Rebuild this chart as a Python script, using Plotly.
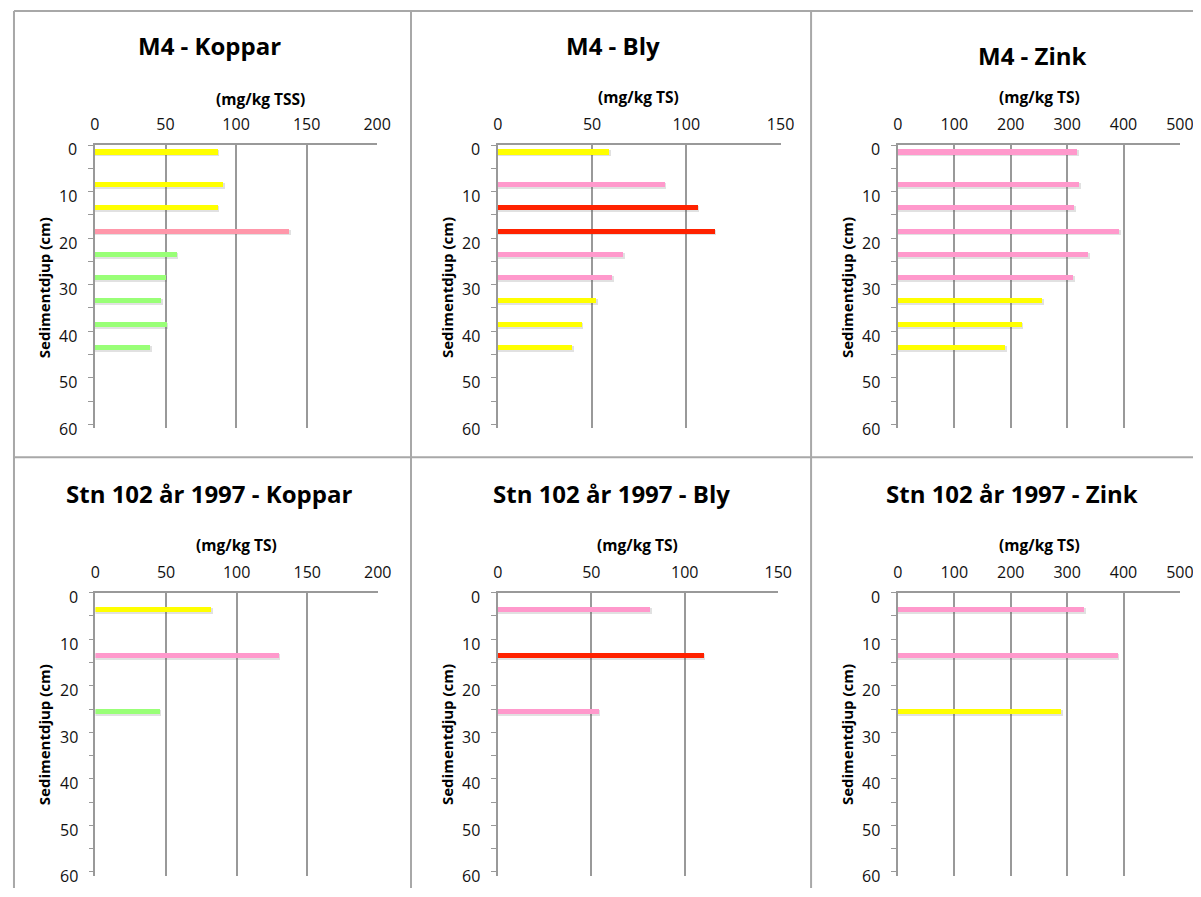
import plotly.graph_objects as go

# ---------------- data ----------------
m4_depth = [1.5, 8.5, 13.5, 18.5, 23.5, 28.5, 33.5, 38.5, 43.5]
m4_koppar = [87, 91, 87, 137.5, 58, 50, 47, 51, 39]
m4_bly = [59, 88.5, 106, 115, 66.5, 60.5, 52, 44.5, 39.5]
m4_zink = [318, 321, 312.5, 392, 337.5, 311, 256, 219, 190]

stn_depth = [3.5, 13.5, 25.5]
stn_koppar = [82.5, 130, 46]
stn_bly = [81.5, 110, 54]
stn_zink = [330, 389.5, 289.5]

Y, P, S, R, G = "#FFFF00", "#FF99CC", "#FF97AA", "#FF2200", "#99FF77"
m4_koppar_col = [Y, Y, Y, S, G, G, G, G, G]
m4_bly_col = [Y, P, R, R, P, P, Y, Y, Y]
m4_zink_col = [P, P, P, P, P, P, Y, Y, Y]
stn_koppar_col = [Y, P, G]
stn_bly_col = [P, R, P]
stn_zink_col = [P, P, Y]

titles = ["M4 - Koppar", "M4 - Bly", "M4 - Zink",
          "Stn 102 år 1997 - Koppar", "Stn 102 år 1997 - Bly", "Stn 102 år 1997 - Zink"]
units = ["(mg/kg TSS)", "(mg/kg TS)", "(mg/kg TS)", "(mg/kg TS)", "(mg/kg TS)", "(mg/kg TS)"]
xmax = [200, 150, 500, 200, 150, 500]
xdtick = [50, 50, 100, 50, 50, 100]
depth_ticks = [0, 10, 20, 30, 40, 50, 60]
ytitle = "Sedimentdjup (cm)"

OFF = 8
W, H = 1201, 880
SX, BX = 0.984, 4.7   # horizontal correction for the captured page
FONT = "Open Sans"
GRID = "#999999"


def fx(px):
    return ((px - BX) / SX - OFF) / W


def fy(py):
    return 1 - (py - OFF) / H


panels = [
    (m4_depth, m4_koppar, m4_koppar_col),
    (m4_depth, m4_bly, m4_bly_col),
    (m4_depth, m4_zink, m4_zink_col),
    (stn_depth, stn_koppar, stn_koppar_col),
    (stn_depth, stn_bly, stn_bly_col),
    (stn_depth, stn_zink, stn_zink_col),
]

# target pixel geometry: (x0, x1, ytop, ybottom)
geom = [
    (94.5, 376.7, 145.0, 428.0),
    (497.3, 780.0, 145.0, 428.0),
    (897.3, 1179.3, 145.0, 428.0),
    (95.0, 377.3, 592.7, 875.7),
    (497.3, 777.7, 592.7, 875.7),
    (897.3, 1179.3, 592.7, 875.7),
]
title_pos = [(209, 45.7), (612, 45.7), (1031.7, 55), (209, 493.3), (610.5, 493.3), (1011.8, 493.3)]
unit_pos = [(260.5, 99.0), (638.3, 97.5), (1038.5, 97.5), (236, 545), (637, 545), (1038.5, 545)]
ytitle_pos = [(43.3, 287.5), (446, 287.5), (846, 287.5), (43.3, 734.5), (446, 734.5), (846, 734.5)]

fig = go.Figure()
layout = dict(
    width=W, height=H, margin=dict(l=0, r=0, t=0, b=0),
    paper_bgcolor="white", plot_bgcolor="white", showlegend=False,
    font=dict(family=FONT, color="#000000"),
    bargap=0,
)
annotations = []
shapes = []

for i, (depth, vals, cols) in enumerate(panels):
    n = i + 1
    xa = "x" if n == 1 else f"x{n}"
    ya = "y" if n == 1 else f"y{n}"
    x0, x1, yt, yb = geom[i]
    ppc = (yb - yt) / 60.8  # pixels per cm
    ppu = (x1 - x0) / xmax[i]  # pixels per unit
    shadow_dy = 1.4 / ppc
    shadow_dx = 1.5 / ppu
    fig.add_trace(go.Bar(
        x=[v + shadow_dx for v in vals], y=[d + shadow_dy for d in depth], orientation="h",
        width=1.25, marker=dict(color="rgba(90,90,90,0.18)", line=dict(width=0)),
        xaxis=xa, yaxis=ya, hoverinfo="skip",
    ))
    fig.add_trace(go.Bar(
        x=vals, y=depth, orientation="h", width=1.08,
        marker=dict(color=cols, line=dict(width=0)),
        xaxis=xa, yaxis=ya,
    ))
    xkey = "xaxis" if n == 1 else f"xaxis{n}"
    ykey = "yaxis" if n == 1 else f"yaxis{n}"
    layout[xkey] = dict(
        domain=[fx(x0), min(fx(x1), 1.0)], anchor=ya, side="top",
        range=[0, xmax[i]], tickmode="linear", tick0=0, dtick=xdtick[i],
        showgrid=True, gridcolor=GRID, gridwidth=1.6,
        showline=True, linecolor=GRID, linewidth=1.6,
        zeroline=False, ticks="", ticklabelstandoff=7,
        tickfont=dict(family=FONT, size=16, color="#111111"),
        fixedrange=True,
    )
    layout[ykey] = dict(
        domain=[max(fy(yb), 0.0), fy(yt)], anchor=xa,
        range=[60.8, 0], tickmode="array", tickvals=depth_ticks,
        showticklabels=False,
        showgrid=False, zeroline=False,
        showline=True, linecolor=GRID, linewidth=1.6,
        ticks="outside", ticklen=5, tickwidth=1.4, tickcolor=GRID,
        minor=dict(ticks="outside", dtick=5, tick0=0, ticklen=5, tickwidth=1.4, tickcolor=GRID, showgrid=False),
        fixedrange=True,
    )
    # depth tick labels (Excel draws them slightly below the tick marks)
    for v in depth_ticks:
        annotations.append(dict(text=str(v), xref=f"{xa} domain", x=0, yref=ya, y=v,
                                xanchor="right", yanchor="middle", xshift=-15.5, yshift=-4.5,
                                showarrow=False, font=dict(family=FONT, size=16, color="#111111")))
    tx, ty = title_pos[i]
    annotations.append(dict(text=f"<b>{titles[i]}</b>", x=fx(tx), y=fy(ty), xref="paper", yref="paper",
                            xanchor="center", yanchor="middle", showarrow=False,
                            font=dict(family=FONT, size=24, color="#000000")))
    ux, uy = unit_pos[i]
    annotations.append(dict(text=f"<b>{units[i]}</b>", x=fx(ux), y=fy(uy), xref="paper", yref="paper",
                            xanchor="center", yanchor="middle", showarrow=False,
                            font=dict(family=FONT, size=15.5, color="#000000")))
    yx, yy = ytitle_pos[i]
    annotations.append(dict(text=f"<b>{ytitle}</b>", x=fx(yx), y=fy(yy), xref="paper", yref="paper",
                            xanchor="center", yanchor="middle", showarrow=False, textangle=-90,
                            font=dict(family=FONT, size=15, color="#000000")))

BORDER = "#A8A8A8"
top_y = fy(11)
left_x = 1.0 / W
for (ax0, ay0, ax1, ay1) in [(left_x, top_y, 1.0, top_y), (left_x, top_y, left_x, 0.0),
                             (fx(410.5), top_y, fx(410.5), 0.0), (fx(810.5), top_y, fx(810.5), 0.0),
                             (left_x, fy(457.3), 1.0, fy(457.3))]:
    shapes.append(dict(type="line", xref="paper", yref="paper",
                       x0=ax0, y0=ay0, x1=ax1, y1=ay1,
                       line=dict(color=BORDER, width=2)))

layout["annotations"] = annotations
layout["shapes"] = shapes
fig.update_layout(**layout)
fig.write_html("out.html")
